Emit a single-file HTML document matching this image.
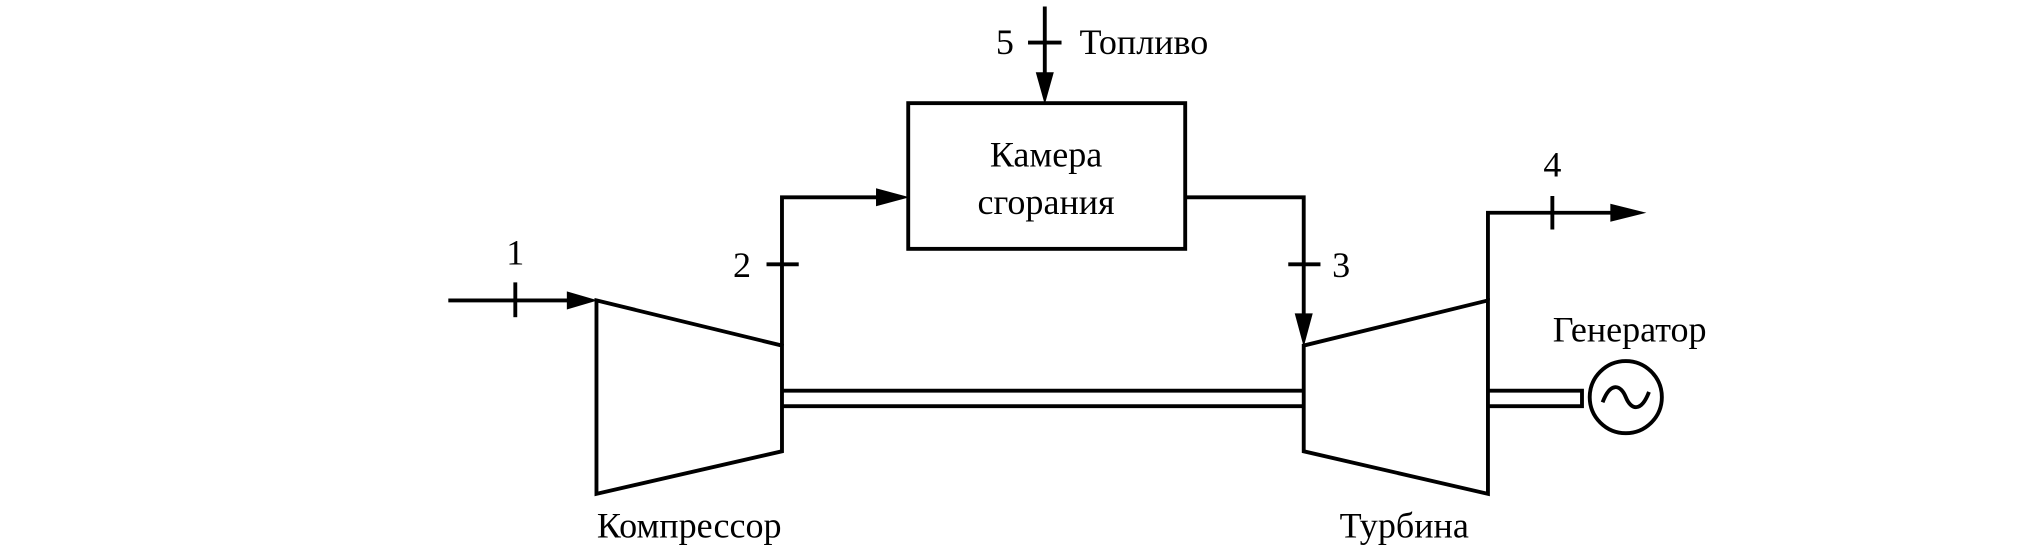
<!DOCTYPE html>
<html><head><meta charset="utf-8"><style>html,body{margin:0;padding:0;background:#fff}svg{display:block}</style></head>
<body>
<svg width="2020" height="548" viewBox="0 0 1568 425" preserveAspectRatio="none" xmlns="http://www.w3.org/2000/svg">
<g fill="none" stroke="#000" stroke-width="3">
<line x1="348" y1="233" x2="450" y2="233"/>
<line x1="400" y1="219" x2="400" y2="246"/>
<polygon points="463,233 607,268 607,350 463,383"/>
<polyline points="607,268 607,153 690,153"/>
<line x1="595" y1="205" x2="620" y2="205"/>
<rect x="705" y="80" width="215" height="113"/>
<line x1="811" y1="5" x2="811" y2="66"/>
<line x1="798" y1="33" x2="824" y2="33"/>
<polyline points="920,153 1012,153 1012,253"/>
<line x1="1000" y1="205" x2="1025" y2="205"/>
<polygon points="1012,268 1155,233 1155,383 1012,350"/>
<line x1="607" y1="303" x2="1012" y2="303"/>
<line x1="607" y1="315" x2="1012" y2="315"/>
<polyline points="1155,303 1228,303 1228,315 1155,315"/>
<polyline points="1155,233 1155,165 1262,165"/>
<line x1="1205" y1="152" x2="1205" y2="178"/>
<circle cx="1262" cy="308" r="28"/>
<path d="M1244,312 C1250,296 1258,298 1262,308 C1266,318 1274,320 1280,304"/>
</g>
<g fill="#000">
<polygon points="440,226 464,233 440,240"/>
<polygon points="680,146 706,153 680,160"/>
<polygon points="804,56 811,81 818,56"/>
<polygon points="1005,243 1012,269 1019,243"/>
<polygon points="1250,158 1278,165 1250,172"/>
</g>
<g font-family="Liberation Serif, serif" font-size="28" fill="#000">
<text x="400" y="205" text-anchor="middle">1</text>
<text x="576" y="215" text-anchor="middle">2</text>
<text x="1041" y="215" text-anchor="middle">3</text>
<text x="1205" y="137" text-anchor="middle">4</text>
<text x="780" y="42" text-anchor="middle">5</text>
<text x="838" y="42">Топливо</text>
<text x="812" y="129" text-anchor="middle">Камера</text>
<text x="812" y="166" text-anchor="middle">сгорания</text>
<text x="535" y="417" text-anchor="middle">Компрессор</text>
<text x="1090" y="417" text-anchor="middle">Турбина</text>
<text x="1265" y="265" text-anchor="middle">Генератор</text>
</g>
</svg>
</body></html>
